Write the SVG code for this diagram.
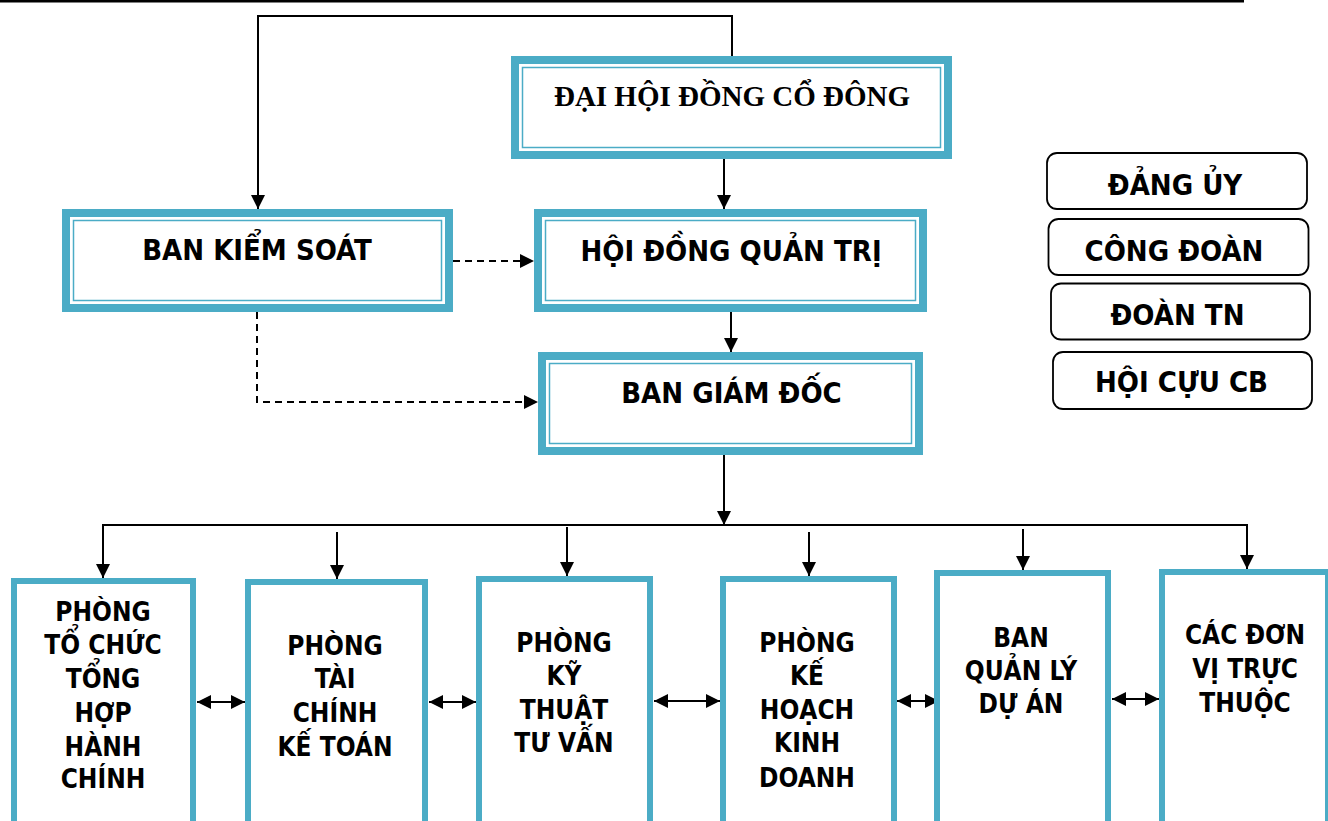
<svg xmlns="http://www.w3.org/2000/svg" width="1328" height="821" viewBox="0 0 1328 821">
<defs>
<style>
.bg{fill:#ffffff}
.band{fill:#ffffff;stroke:#4bacc6;stroke-width:8}
.thin{fill:none;stroke:#4bacc6;stroke-width:1.5}
.dept{fill:#ffffff;stroke:#4bacc6;stroke-width:6}
.org{fill:#ffffff;stroke:#000000;stroke-width:1.8}
.t{font-family:"DejaVu Sans Condensed","DejaVu Sans",sans-serif;font-weight:bold;fill:#000000;text-anchor:middle}
.big{font-size:29px}
.small{font-size:26px}
.serif{font-family:"Liberation Serif","Times New Roman",serif;font-weight:bold;font-size:29px;fill:#000000;text-anchor:middle}
.c{fill:none;stroke:#000000;stroke-width:2}
.d{fill:none;stroke:#000000;stroke-width:2;stroke-dasharray:7 5}
</style>
<marker id="ah" markerUnits="userSpaceOnUse" markerWidth="14" markerHeight="14" refX="14" refY="7" orient="auto-start-reverse" viewBox="0 0 14 14">
<path d="M0,0 L14,7 L0,14 z" fill="#000000"/>
</marker>
</defs>
<rect class="bg" x="0" y="0" width="1328" height="821"/>
<line x1="0" y1="1.2" x2="1244" y2="1.2" stroke="#000000" stroke-width="2.5"/>

<g id="connectors">
<path class="c" d="M732,56 V16 H258 V209" marker-end="url(#ah)"/>
<path class="c" d="M724,159 V209" marker-end="url(#ah)"/>
<path class="d" d="M453,261 H534" marker-end="url(#ah)"/>
<path class="d" d="M257,312 V402 H538" marker-end="url(#ah)"/>
<path class="c" d="M731,312 V352" marker-end="url(#ah)"/>
<path class="c" d="M724,455 V525" marker-end="url(#ah)"/>
<path class="c" d="M724,525 H103 V578" marker-end="url(#ah)"/>
<path class="c" d="M724,525 H1247 V569" marker-end="url(#ah)"/>
<path class="c" d="M337,532 V579" marker-end="url(#ah)"/>
<path class="c" d="M567,527 V576" marker-end="url(#ah)"/>
<path class="c" d="M809,532 V576" marker-end="url(#ah)"/>
<path class="c" d="M1023,529 V570" marker-end="url(#ah)"/>
<path class="c" d="M197,702 H245" marker-start="url(#ah)" marker-end="url(#ah)"/>
<path class="c" d="M429,702 H476" marker-start="url(#ah)" marker-end="url(#ah)"/>
<path class="c" d="M654,701 H720" marker-start="url(#ah)" marker-end="url(#ah)"/>
<path class="c" d="M897,701 H939" marker-start="url(#ah)" marker-end="url(#ah)"/>
<path class="c" d="M1112,699 H1159" marker-start="url(#ah)" marker-end="url(#ah)"/>
</g>

<g id="dai-hoi-dong-co-dong">
<rect class="band" x="515" y="60" width="433" height="95"/>
<rect class="thin" x="522.5" y="67.5" width="418" height="80"/>
<text class="serif" x="732" y="106">ĐẠI HỘI ĐỒNG CỔ ĐÔNG</text>
</g>

<g id="ban-kiem-soat">
<rect class="band" x="66" y="213" width="383" height="95"/>
<rect class="thin" x="73.5" y="220.5" width="368" height="80"/>
<text class="t big" x="257" y="260">BAN KIỂM SOÁT</text>
</g>

<g id="hoi-dong-quan-tri">
<rect class="band" x="538" y="213" width="385" height="95"/>
<rect class="thin" x="545.5" y="220.5" width="370" height="80"/>
<text class="t big" x="731" y="261">HỘI ĐỒNG QUẢN TRỊ</text>
</g>

<g id="ban-giam-doc">
<rect class="band" x="542" y="356" width="377" height="95"/>
<rect class="thin" x="549.5" y="363.5" width="362" height="80"/>
<text class="t big" x="731.5" y="403">BAN GIÁM ĐỐC</text>
</g>

<g id="dang-uy">
<rect class="org" x="1047" y="153" width="260" height="56" rx="10"/>
<text class="t big" x="1175" y="195">ĐẢNG ỦY</text>
</g>
<g id="cong-doan">
<rect class="org" x="1048.5" y="219" width="260" height="56" rx="10"/>
<text class="t big" x="1174" y="261">CÔNG ĐOÀN</text>
</g>
<g id="doan-tn">
<rect class="org" x="1051" y="283.5" width="259" height="56" rx="10"/>
<text class="t big" x="1177.5" y="325">ĐOÀN TN</text>
</g>
<g id="hoi-cuu-cb">
<rect class="org" x="1053" y="352" width="259" height="57" rx="10"/>
<text class="t big" x="1181.5" y="392">HỘI CỰU CB</text>
</g>

<g id="phong-to-chuc">
<rect class="dept" x="14" y="581" width="179" height="260"/>
<text class="t small" x="103" y="621">PHÒNG</text>
<text class="t small" x="103" y="654">TỔ CHỨC</text>
<text class="t small" x="103" y="688">TỔNG</text>
<text class="t small" x="103" y="722">HỢP</text>
<text class="t small" x="103" y="756">HÀNH</text>
<text class="t small" x="103" y="788">CHÍNH</text>
</g>

<g id="phong-tai-chinh">
<rect class="dept" x="248" y="582" width="177" height="260"/>
<text class="t small" x="335" y="655">PHÒNG</text>
<text class="t small" x="335" y="688">TÀI</text>
<text class="t small" x="335" y="722">CHÍNH</text>
<text class="t small" x="335" y="756">KẾ TOÁN</text>
</g>

<g id="phong-ky-thuat">
<rect class="dept" x="479" y="579" width="171" height="260"/>
<text class="t small" x="564" y="652">PHÒNG</text>
<text class="t small" x="564" y="685">KỸ</text>
<text class="t small" x="564" y="719">THUẬT</text>
<text class="t small" x="564" y="752">TƯ VẤN</text>
</g>

<g id="phong-ke-hoach">
<rect class="dept" x="723" y="579" width="171" height="260"/>
<text class="t small" x="807" y="652">PHÒNG</text>
<text class="t small" x="807" y="685">KẾ</text>
<text class="t small" x="807" y="719">HOẠCH</text>
<text class="t small" x="807" y="752">KINH</text>
<text class="t small" x="807" y="787">DOANH</text>
</g>

<g id="ban-quan-ly-du-an">
<rect class="dept" x="937" y="573" width="171" height="270"/>
<text class="t small" x="1021" y="647">BAN</text>
<text class="t small" x="1021" y="680">QUẢN LÝ</text>
<text class="t small" x="1021" y="713">DỰ ÁN</text>
</g>

<g id="cac-don-vi">
<rect class="dept" x="1162" y="572" width="166" height="270"/>
<text class="t small" x="1245" y="644">CÁC ĐƠN</text>
<text class="t small" x="1245" y="678">VỊ TRỰC</text>
<text class="t small" x="1245" y="712">THUỘC</text>
</g>
</svg>
